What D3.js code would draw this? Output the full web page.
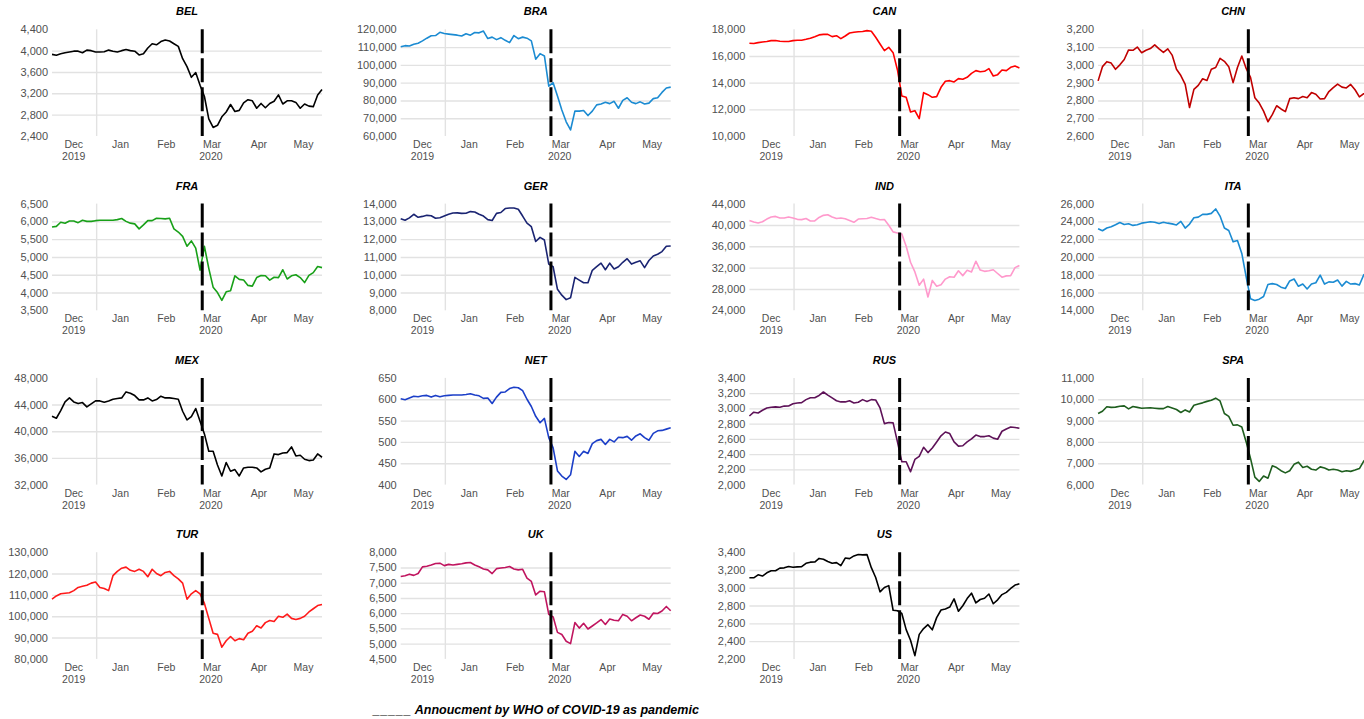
<!DOCTYPE html>
<html>
<head>
<meta charset="utf-8">
<script src="https://cdn.jsdelivr.net/npm/d3@7"></script>
<style>
  html, body { margin: 0; padding: 0; background: #ffffff; }
  svg { display: block; }
  text { font-family: "Liberation Sans", Arial, sans-serif; }
</style>
</head>
<body>
<svg id="chart" width="1364" height="719"></svg>
<script>
// Stock market indices, 2 Dec 2019 – end of May 2020, one value every second trading day.
const countries = ["BEL", "BRA", "CAN", "CHN", "FRA", "GER", "IND", "ITA",
                   "MEX", "NET", "RUS", "SPA", "TUR", "UK", "US"];

const lineColors = ["#000000", "#1b8bd2", "#ff0000", "#c00000", "#18a018", "#1a2472", "#ff99cc", "#1b8bd2",
                    "#000000", "#1c3fc8", "#5e1258", "#1e5e1e", "#ff1a1a", "#c0155f", "#000000"];

const months = ["Dec", "Jan", "Feb", "Mar", "Apr", "May"];
const monthTradingDays = [21, 22, 20, 22, 21, 20];
const years = ["2019", "2020"];
const sampleStep = 2;      // trading days between stored observations
const whoDay = 69;         // 11 March 2020, counted in trading days from 2 Dec 2019
const legendMark = "_____";
const legendText = "Annoucment by WHO of COVID-19 as pandemic";

const yTicks = [
  [2400, 2800, 3200, 3600, 4000, 4400],
  [60000, 70000, 80000, 90000, 100000, 110000, 120000],
  [10000, 12000, 14000, 16000, 18000],
  [2600, 2700, 2800, 2900, 3000, 3100, 3200],
  [3500, 4000, 4500, 5000, 5500, 6000, 6500],
  [8000, 9000, 10000, 11000, 12000, 13000, 14000],
  [24000, 28000, 32000, 36000, 40000, 44000],
  [14000, 16000, 18000, 20000, 22000, 24000, 26000],
  [32000, 36000, 40000, 44000, 48000],
  [400, 450, 500, 550, 600, 650],
  [2000, 2200, 2400, 2600, 2800, 3000, 3200, 3400],
  [6000, 7000, 8000, 9000, 10000, 11000],
  [80000, 90000, 100000, 110000, 120000, 130000],
  [4500, 5000, 5500, 6000, 6500, 7000, 7500, 8000],
  [2200, 2400, 2600, 2800, 3000, 3200, 3400]
];

const BEL = [3930,3915,3940,3960,3975,3990,3990,3960,4010,4000, 3975,3975,3980,4010,3990,3975,4000,4020,4000,3990,
  3920,3940,4050,4130,4110,4170,4200,4180,4130,4080, 3850,3700,3500,3590,3350,3140,2720,2560,2600,2760,
  2850,2990,2860,2880,3020,3080,3060,2920,3010,2930, 3010,3050,3170,3000,3060,3060,3030,2920,3000,2960,
  2950,3170,3270];

const BRA = [110200,110800,110600,111600,112200,113500,115000,116400,116500,118300, 117600,117300,117000,116700,116200,117500,116700,118200,118000,119000,
  114800,115600,114200,115300,113800,112500,116500,114700,115600,115000, 113500,103200,106300,105000,88000,90000,82500,74600,68000,63400,
  74000,74000,74300,71500,74000,77500,78000,79000,78200,79500, 75600,80000,81500,79000,78200,79200,78000,78500,81000,81500,
  84500,87000,87500];

const CAN = [16950,16930,17000,17050,17080,17150,17160,17100,17080,17080, 17150,17180,17180,17250,17330,17450,17580,17620,17620,17450,
  17520,17300,17500,17720,17780,17820,17830,17900,17850,17400, 16900,16400,16650,16250,14950,13000,12900,11800,11900,11300,
  13250,13100,12900,12950,13650,14100,14150,14050,14300,14250, 14400,14700,14900,14820,14850,15050,14500,14600,14950,14900,
  15150,15250,15100];

const CHN = [2910,2990,3018,3010,2975,3000,3030,3084,3082,3100, 3068,3082,3092,3112,3090,3070,3090,3055,2975,2940,
  2890,2760,2862,2885,2922,2912,2975,2985,3037,3020, 2990,2900,2985,3050,2980,2930,2815,2785,2740,2680,
  2720,2770,2752,2737,2810,2815,2810,2822,2815,2844, 2835,2808,2810,2850,2872,2892,2875,2870,2890,2860,
  2820,2838,2835];

const FRA = [5840,5860,5975,5950,6010,6010,5965,6030,6000,6000, 6020,6030,6030,6030,6030,6050,6080,6000,5950,5930,
  5790,5900,6020,6020,6090,6080,6070,6090,5790,5700, 5580,5300,5450,5250,4630,5300,4680,4150,4000,3780,
  4020,4050,4470,4370,4350,4200,4180,4420,4480,4470, 4350,4430,4420,4640,4380,4470,4500,4420,4280,4480,
  4560,4730,4700];

const GER = [13150,13060,13200,13400,13230,13280,13340,13320,13180,13200, 13300,13400,13470,13480,13450,13460,13550,13530,13400,13300,
  13100,13050,13450,13500,13720,13750,13750,13680,13300,12900, 12700,11870,12100,11950,10600,10450,9180,8850,8600,8700,
  9850,9700,9550,9550,10250,10450,10650,10280,10650,10320, 10450,10700,10900,10600,10700,10780,10400,10800,11050,11150,
  11300,11600,11620];

const IND = [40850,40550,40350,40600,41100,41480,41600,41300,41300,41480, 41300,41050,41000,41200,40750,40750,41400,41800,41900,41480,
  41200,41300,41150,40850,40500,41100,41170,41200,41450,41200, 40980,41000,39950,38700,38500,38300,36000,33000,31200,28700,
  29850,26500,29600,28500,28800,29850,30300,30200,31400,30500, 31500,31200,33200,31550,31300,31400,31600,30900,30200,30450,
  30500,32000,32400];

const ITA = [23170,22950,23250,23400,23620,23880,23650,23740,23550,23620, 23800,23880,23950,23900,23750,23900,23800,23720,23600,24000,
  23250,23700,24400,24480,24790,24790,24900,25400,24600,23250, 22980,21700,21850,20400,17770,15300,15100,15250,15550,16900,
  17000,16900,16600,16450,17300,17520,16700,16950,16400,16950, 17100,17960,16950,17200,17150,17400,16720,17250,16950,17000,
  16850,18000,18200];

const MEX = [42250,41950,43100,44400,45000,44400,44150,44300,43650,44100, 44550,44550,44350,44550,44800,44900,45000,45900,45700,45350,
  44700,44700,45000,44550,44750,45250,45000,45000,44900,44800, 43000,41700,42200,43400,41500,39600,37000,37000,34950,33300,
  35300,34000,34250,33300,34500,34600,34600,34500,33900,34300, 34500,36600,36500,36750,36800,37650,36300,36400,35800,35600,
  35700,36600,36100];

const NET = [601,599,603,607,606,608,609,605,609,606, 608,609,610,610,610,611,613,610,608,602,
  603,590,605,616,617,625,628,627,620,600, 583,560,545,555,510,486,432,420,412,423,
  478,466,478,473,496,503,506,494,506,500, 511,510,513,504,514,519,510,504,520,526,
  527,530,533];

const RUS = [2900,2950,2940,2975,3005,3015,3020,3015,3030,3032, 3060,3070,3075,3115,3140,3140,3170,3215,3175,3137,
  3100,3085,3085,3100,3070,3080,3115,3090,3115,3110, 3006,2800,2814,2810,2560,2300,2300,2170,2330,2370,
  2490,2420,2480,2560,2640,2690,2670,2560,2505,2510, 2560,2600,2650,2630,2630,2640,2610,2595,2700,2730,
  2755,2750,2740];

const SPA = [9330,9440,9650,9620,9630,9670,9690,9550,9660,9620, 9580,9590,9600,9580,9560,9560,9660,9590,9520,9380,
  9500,9400,9720,9780,9830,9900,9950,10050,9920,9330, 9200,8780,8800,8700,8000,7230,6350,6150,6400,6300,
  6880,6800,6650,6550,6650,6950,7050,6800,6860,6720, 6680,6830,6780,6680,6720,6680,6600,6650,6620,6680,
  6750,7100,7300];

const TUR = [108000,109500,110500,110800,111000,112000,113500,114000,114500,115500, 116000,113500,113000,112000,119000,121000,122500,123000,121500,121000,
  122000,121000,118500,122000,120000,119000,120500,121000,119000,117500, 115500,108000,110500,112000,110500,106000,99000,92000,91500,85500,
  88500,90500,88500,89500,89000,92000,93000,95500,94500,97000, 98000,97500,100000,99500,101000,99000,98500,99000,100000,102000,
  103500,105000,105500];

const UK = [7200,7230,7280,7240,7300,7520,7540,7580,7630,7640, 7560,7600,7580,7600,7620,7650,7660,7580,7520,7450,
  7420,7300,7460,7480,7500,7530,7450,7420,7440,7150, 7040,6600,6720,6700,5960,5880,5370,5300,5080,5000,
  5690,5510,5670,5480,5580,5680,5790,5630,5810,5770, 5750,5960,5900,5750,5850,5940,5900,5800,6000,5990,
  6070,6220,6080];

const US = [3113,3112,3146,3132,3168,3191,3191,3221,3224,3240, 3231,3235,3238,3275,3288,3289,3330,3321,3295,3276,
  3283,3249,3334,3328,3358,3374,3370,3373,3226,3116, 2954,3003,3024,2747,2741,2711,2529,2409,2237,2476,
  2541,2585,2527,2664,2750,2762,2783,2875,2737,2798, 2878,2939,2830,2868,2882,2930,2820,2864,2923,2948,
  2992,3030,3044];

const series = [BEL, BRA, CAN, CHN, FRA, GER, IND, ITA, MEX, NET, RUS, SPA, TUR, UK, US];

// ---- layout of the 4-column grid of small multiples ----
const PLOT_W = 270, PLOT_H = 106.7;
const COL_X0 = 52, COL_DX = 348.7;
const ROW_Y0 = 29.3, ROW_DY = 174.3;
const GRID_COLOR = "#e2e2e2";
const LABEL_COLOR = "#505050";

const svg = d3.select("#chart");
const lastDay = (BEL.length - 1) * sampleStep;
const x = d3.scaleLinear().domain([0, lastDay]).range([0, PLOT_W]);

// month bins on the trading-day axis
const monthStarts = d3.cumsum([0].concat(monthTradingDays.slice(0, -1)));
const monthCenters = monthStarts.map((s, i) => s + (monthTradingDays[i] - 1) / 2);
const yearBreak = monthTradingDays[0] - 0.5;
const totalDays = d3.sum(monthTradingDays);
const yearCenters = [(monthTradingDays[0] - 1) / 2, (monthTradingDays[0] + totalDays - 1) / 2];

countries.forEach((name, k) => {
  const col = k % 4, row = Math.floor(k / 4);
  const g = svg.append("g")
    .attr("transform", `translate(${COL_X0 + col * COL_DX},${ROW_Y0 + row * ROW_DY})`);

  const ticks = yTicks[k];
  const y = d3.scaleLinear().domain([ticks[0], ticks[ticks.length - 1]]).range([PLOT_H, 0]);

  // horizontal gridlines at the inner ticks
  const grid = g.append("g").call(
    d3.axisLeft(y).tickValues(ticks.slice(1, -1)).tickSize(-PLOT_W).tickFormat("")
  );
  grid.select(".domain").remove();
  grid.selectAll("line").attr("stroke", GRID_COLOR).attr("stroke-width", 1.4);

  // divider between 2019 and 2020
  g.append("line")
    .attr("x1", x(yearBreak)).attr("x2", x(yearBreak))
    .attr("y1", 0).attr("y2", PLOT_H)
    .attr("stroke", GRID_COLOR).attr("stroke-width", 1.4);

  // y-axis labels
  const yAxis = g.append("g").call(
    d3.axisLeft(y).tickValues(ticks).tickSize(0).tickPadding(4).tickFormat(d3.format(","))
  );
  yAxis.select(".domain").remove();
  yAxis.selectAll("text")
    .attr("fill", LABEL_COLOR)
    .style("font-size", "11px")
    .style("font-family", "'Liberation Sans', Arial, sans-serif");

  // index line
  const line = d3.line()
    .x((d, i) => x(i * sampleStep))
    .y(d => y(d));
  g.append("path")
    .datum(series[k])
    .attr("fill", "none")
    .attr("stroke", lineColors[k])
    .attr("stroke-width", 1.6)
    .attr("stroke-linejoin", "round")
    .attr("d", line);

  // WHO pandemic announcement
  g.append("line")
    .attr("x1", x(whoDay)).attr("x2", x(whoDay))
    .attr("y1", 0).attr("y2", PLOT_H)
    .attr("stroke", "#000")
    .attr("stroke-width", 3)
    .attr("stroke-dasharray", "24,5");

  // two-level category axis: months on the first line, years on the second
  g.selectAll("text.month")
    .data(months)
    .join("text")
    .attr("class", "month")
    .attr("x", (d, i) => x(monthCenters[i]))
    .attr("y", PLOT_H + 12)
    .attr("text-anchor", "middle")
    .attr("fill", LABEL_COLOR)
    .style("font-size", "10.5px")
    .text(d => d);

  g.selectAll("text.year")
    .data(years)
    .join("text")
    .attr("class", "year")
    .attr("x", (d, i) => x(yearCenters[i]))
    .attr("y", PLOT_H + 24)
    .attr("text-anchor", "middle")
    .attr("fill", LABEL_COLOR)
    .style("font-size", "10.5px")
    .text(d => d);

  // panel title
  g.append("text")
    .attr("x", PLOT_W / 2)
    .attr("y", -14)
    .attr("text-anchor", "middle")
    .attr("fill", "#000")
    .style("font-size", "11px")
    .style("font-weight", "bold")
    .style("font-style", "italic")
    .text(name);
});

// legend line at the bottom
const legend = svg.append("text")
  .attr("x", 373)
  .attr("y", 714)
  .attr("fill", "#000")
  .style("font-size", "12.5px")
  .style("font-weight", "bold")
  .style("font-style", "italic");
legend.append("tspan").style("letter-spacing", "0.8px").text(legendMark);
legend.append("tspan").attr("dx", 3).text(legendText);
</script>
</body>
</html>
